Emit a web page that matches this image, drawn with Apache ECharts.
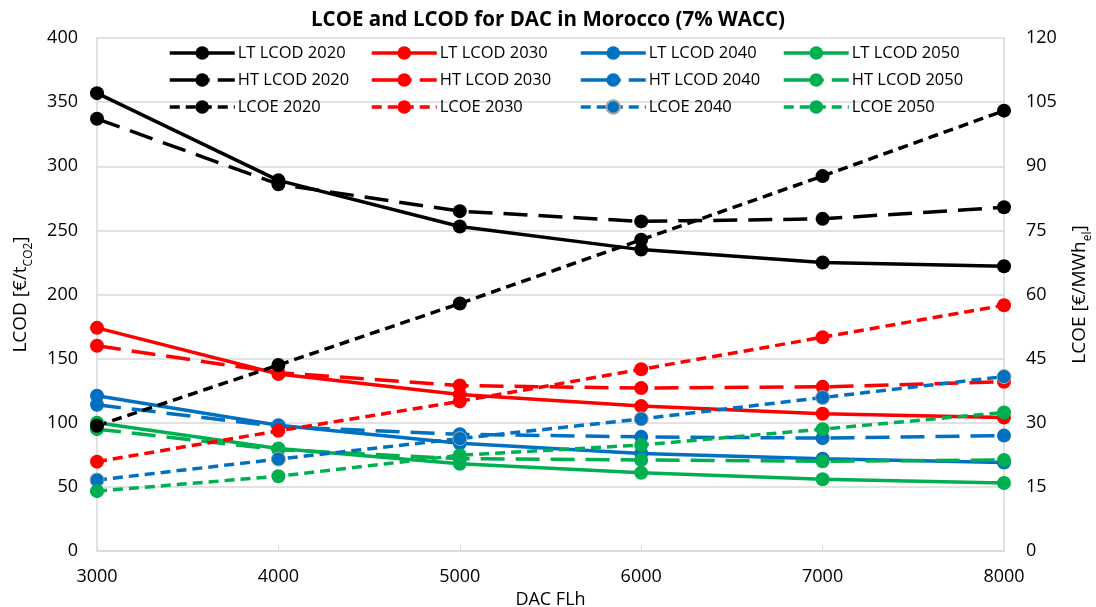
<!DOCTYPE html>
<html>
<head>
<meta charset="utf-8">
<script src="https://cdn.jsdelivr.net/npm/echarts@6/dist/echarts.min.js"></script>
<style>
  html, body { margin: 0; padding: 0; background: #fff; }
  #chart { width: 1096px; height: 607px; }
</style>
</head>
<body>
<div id="chart"></div>
<script>
// DAC full-load hours (x axis)
const flh = [3000, 4000, 5000, 6000, 7000, 8000];

// Low-temperature DAC, LCOD in €/tCO2
const ltLcod2020 = [357, 289, 253, 235, 225, 222];
const ltLcod2030 = [174, 138, 122, 113, 107, 104];
const ltLcod2040 = [121, 98, 84, 76, 72, 69];
const ltLcod2050 = [100, 80, 68, 61, 56, 53];

// High-temperature DAC, LCOD in €/tCO2
const htLcod2020 = [337, 286, 265, 257, 259, 268];
const htLcod2030 = [160, 139, 129, 127, 128, 132];
const htLcod2040 = [114, 97, 91, 89, 88, 90];
const htLcod2050 = [95, 79, 72, 71, 70, 71];

// Electricity cost, LCOE in €/MWh_el (right axis)
const lcoe2020 = [29.3, 43.5, 57.9, 72.8, 87.7, 103.0];
const lcoe2030 = [20.9, 28.1, 35.0, 42.5, 50.0, 57.5];
const lcoe2040 = [16.6, 21.5, 26.3, 30.9, 35.9, 40.8];
const lcoe2050 = [14.0, 17.5, 22.4, 24.8, 28.5, 32.4];

const FONT = '"Open Sans", "Noto Sans", sans-serif';
const COLORS = { y2020: '#000000', y2030: '#FF0000', y2040: '#0070C0', y2050: '#00B050' };

const LINE_WIDTH = 3.5;
const LT_DASH = 'solid';
const HT_DASH = [24, 11];
const LCOE_DASH = [10, 6];
// Legend swatch for the long-dash style: line into the marker, a gap, then one dash
const HT_LEGEND_DASH = [40, 8, 17];

function pairs(values) {
  return flh.map((x, i) => [x, values[i]]);
}

function makeSeries(name, values, color, dash, yAxisIndex, extra) {
  return Object.assign({
    name: name,
    type: 'line',
    yAxisIndex: yAxisIndex,
    data: pairs(values),
    symbol: 'circle',
    symbolSize: 14,
    color: color,
    lineStyle: { color: color, width: LINE_WIDTH, type: dash },
    itemStyle: { color: color },
    emphasis: { disabled: true },
    animation: false
  }, extra || {});
}

const series = [
  makeSeries('LT LCOD 2020', ltLcod2020, COLORS.y2020, LT_DASH, 0),
  makeSeries('LT LCOD 2030', ltLcod2030, COLORS.y2030, LT_DASH, 0),
  makeSeries('LT LCOD 2040', ltLcod2040, COLORS.y2040, LT_DASH, 0),
  makeSeries('LT LCOD 2050', ltLcod2050, COLORS.y2050, LT_DASH, 0),
  makeSeries('HT LCOD 2020', htLcod2020, COLORS.y2020, HT_DASH, 0),
  makeSeries('HT LCOD 2030', htLcod2030, COLORS.y2030, HT_DASH, 0),
  makeSeries('HT LCOD 2040', htLcod2040, COLORS.y2040, HT_DASH, 0),
  makeSeries('HT LCOD 2050', htLcod2050, COLORS.y2050, HT_DASH, 0),
  makeSeries('LCOE 2020', lcoe2020, COLORS.y2020, LCOE_DASH, 1),
  makeSeries('LCOE 2030', lcoe2030, COLORS.y2030, LCOE_DASH, 1),
  makeSeries('LCOE 2040', lcoe2040, COLORS.y2040, LCOE_DASH, 1,
    { itemStyle: { color: COLORS.y2040, borderColor: '#A6A6A6', borderWidth: 1 } }),
  makeSeries('LCOE 2050', lcoe2050, COLORS.y2050, LCOE_DASH, 1)
];

// One vertical legend per column so the columns line up like a table
const legendColumns = [
  { left: 168, year: '2020' },
  { left: 370, year: '2030' },
  { left: 579, year: '2040' },
  { left: 782, year: '2050' }
].map(c => ({
  orient: 'vertical',
  left: c.left,
  top: 42,
  data: [
    { name: 'LT LCOD ' + c.year, lineStyle: { width: LINE_WIDTH } },
    { name: 'HT LCOD ' + c.year, lineStyle: { width: LINE_WIDTH, type: HT_LEGEND_DASH } },
    { name: 'LCOE ' + c.year, lineStyle: { width: LINE_WIDTH } }
  ],
  itemWidth: 65,
  itemHeight: 17,
  itemGap: 5,
  padding: 0,
  selectedMode: false,
  lineStyle: { width: LINE_WIDTH },
  textStyle: { fontFamily: FONT, fontSize: 16.5, lineHeight: 22, color: '#000', padding: [0, 0, 0, -2] }
}));

const tickStyle = { fontFamily: FONT, fontSize: 18, color: '#000' };
const gridLineColor = '#D9D9D9';

function axisNameRich() {
  return {
    rich: {
      a: { fontFamily: FONT, fontSize: 19, color: '#000', lineHeight: 24, verticalAlign: 'bottom' },
      s: { fontFamily: FONT, fontSize: 12, color: '#000', lineHeight: 24, verticalAlign: 'bottom', padding: [0, 0, -5, 0] }
    }
  };
}

const option = {
  backgroundColor: '#fff',
  animation: false,
  title: {
    text: 'LCOE and LCOD for DAC in Morocco (7% WACC)',
    left: 'center',
    top: 5,
    textStyle: { fontFamily: FONT, fontSize: 20.5, fontWeight: 'bold', color: '#000' }
  },
  legend: legendColumns,
  grid: { left: 97, right: 92, top: 38, bottom: 56, containLabel: false, outerBoundsMode: 'none' },
  xAxis: {
    type: 'value',
    min: 3000,
    max: 8000,
    interval: 1000,
    name: 'DAC FLh',
    nameLocation: 'middle',
    nameGap: 40,
    nameTextStyle: { fontFamily: FONT, fontSize: 18, color: '#000' },
    axisLine: { show: true, lineStyle: { color: gridLineColor, width: 1.5 } },
    axisTick: { show: true, inside: true, length: 6, lineStyle: { color: gridLineColor } },
    axisLabel: Object.assign({ margin: 17, formatter: v => String(v) }, tickStyle),
    splitLine: { show: false }
  },
  yAxis: [
    {
      type: 'value',
      min: 0,
      max: 400,
      interval: 50,
      position: 'left',
      name: '{a|LCOD [€/t}{s|CO2}{a|]}',
      nameLocation: 'middle',
      nameRotate: 90,
      nameGap: 67,
      nameTextStyle: axisNameRich(),
      axisLine: { show: true, lineStyle: { color: gridLineColor, width: 1.5 } },
      axisTick: { show: false },
      axisLabel: Object.assign({ margin: 19 }, tickStyle),
      splitLine: { show: true, lineStyle: { color: gridLineColor, width: 1.5 } }
    },
    {
      type: 'value',
      min: 0,
      max: 120,
      interval: 15,
      position: 'right',
      name: '{a|LCOE [€/MWh}{s|el}{a|]}',
      nameLocation: 'middle',
      nameRotate: 90,
      nameGap: 61,
      nameTextStyle: axisNameRich(),
      axisLine: { show: true, lineStyle: { color: gridLineColor, width: 1.5 } },
      axisTick: { show: false },
      axisLabel: Object.assign({ margin: 22 }, tickStyle),
      splitLine: { show: false }
    }
  ],
  series: series
};

const chart = echarts.init(document.getElementById('chart'), null, { renderer: 'canvas' });
chart.setOption(option);
</script>
</body>
</html>
